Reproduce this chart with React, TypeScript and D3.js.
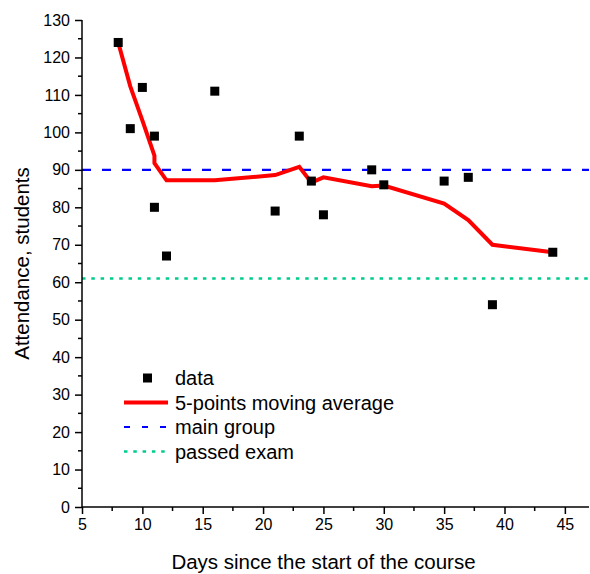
import React, { useEffect, useRef } from 'react'
import * as d3 from 'd3'

// measured attendance (day of course, students)
const days = [8, 9, 10, 11, 11, 12, 16, 21, 23, 24, 25, 29, 30, 35, 37, 39, 44]
const attendance = [124, 101, 112, 99, 80, 67, 111, 79, 99, 87, 78, 90, 86, 87, 88, 54, 68]

// 5-points moving average
const avgDays = [8, 9, 10, 11, 11, 12, 16, 21, 23, 24, 25, 29, 30, 35, 37, 39, 44]
const avgValues = [124, 112.3, 103.2, 93.8, 91.8, 87.2, 87.2, 88.6, 90.8, 86.6, 88, 85.6, 85.8, 81, 76.6, 70, 68]

const mainGroup = 90
const passedExam = 61

const xTicks = [5, 10, 15, 20, 25, 30, 35, 40, 45]
const yTicks = [0, 10, 20, 30, 40, 50, 60, 70, 80, 90, 100, 110, 120, 130]

const legendItems = ['data', '5-points moving average', 'main group', 'passed exam']

const W = 590, H = 574
const FONT = '"Liberation Sans", Arial, sans-serif'

export default function App() {
    const ref = useRef<SVGSVGElement>(null)

    useEffect(() => {
        const svg = d3.select(ref.current)
        svg.selectAll('*').remove()

        const x = d3.scaleLinear().domain([5, 47]).range([82, 589])
        const y = d3.scaleLinear().domain([0, 130]).range([507, 20])

        // reference lines
        svg.append('line')
            .attr('x1', x(5)).attr('x2', x(47))
            .attr('y1', y(mainGroup)).attr('y2', y(mainGroup))
            .style('stroke', '#0000ff').style('stroke-width', 2.2)
            .style('stroke-dasharray', '9 11')
        svg.append('line')
            .attr('x1', x(5)).attr('x2', x(47))
            .attr('y1', y(passedExam)).attr('y2', y(passedExam))
            .style('stroke', '#00cc8c').style('stroke-width', 2.5)
            .style('stroke-dasharray', '3.5 5.8')

        // moving average
        const line = d3.line<number>()
            .x((d, i) => x(avgDays[i]))
            .y(d => y(d))
        svg.append('path')
            .datum(avgValues)
            .attr('d', line)
            .style('fill', 'none')
            .style('stroke', '#ff0000')
            .style('stroke-width', 4)

        // data squares
        svg.selectAll('.pt')
            .data(attendance)
            .enter().append('rect')
            .attr('class', 'pt')
            .attr('x', (d, i) => x(days[i]) - 4.5)
            .attr('y', d => y(d) - 4.5)
            .attr('width', 9).attr('height', 9)
            .style('fill', '#000')

        // x axis
        const xAxis = d3.axisBottom(x)
            .tickValues(xTicks)
            .tickSize(7)
            .tickPadding(5)
        const gx = svg.append('g').attr('transform', `translate(0,${y(0)})`).call(xAxis)
        gx.select('.domain').attr('d', `M${x(5)},0H${x(47)}`)
        gx.selectAll('.tick line').style('stroke-width', 1.5)
        gx.selectAll('.tick text').style('font-size', '16px').style('font-family', FONT).style('fill', '#000')
        gx.append('g').selectAll('line')
            .data(xTicks.map(t => t + 2.5))
            .enter().append('line')
            .attr('x1', d => x(d)).attr('x2', d => x(d))
            .attr('y1', 0).attr('y2', 4)
            .style('stroke', '#000').style('stroke-width', 1.5)
        gx.select('.domain').style('stroke-width', 1.5)

        // y axis
        const yAxis = d3.axisLeft(y)
            .tickValues(yTicks)
            .tickSize(7)
            .tickPadding(5)
        const gy = svg.append('g').attr('transform', `translate(${x(5)},0)`).call(yAxis)
        gy.select('.domain').attr('d', `M0,${y(0)}V${y(130)}`).style('stroke-width', 1.5)
        gy.selectAll('.tick line').style('stroke-width', 1.5)
        gy.selectAll('.tick text').style('font-size', '16px').style('font-family', FONT).style('fill', '#000')
        gy.append('g').selectAll('line')
            .data(yTicks.slice(0, -1).map(t => t + 5))
            .enter().append('line')
            .attr('y1', d => y(d)).attr('y2', d => y(d))
            .attr('x1', 0).attr('x2', -4)
            .style('stroke', '#000').style('stroke-width', 1.5)

        // axis titles
        svg.append('text')
            .attr('x', (82 + 589) / 2 - 12).attr('y', 569)
            .attr('text-anchor', 'middle')
            .style('font-family', FONT).style('font-size', '20.5px')
            .text('Days since the start of the course')
        svg.append('text')
            .attr('transform', `translate(29,${(20 + 507) / 2}) rotate(-90)`)
            .attr('text-anchor', 'middle')
            .style('font-family', FONT).style('font-size', '20.5px')
            .text('Attendance, students')

        // legend
        const lg = svg.append('g').attr('transform', 'translate(124,378)')
        const rowH = 24.5
        lg.append('rect').attr('x', 19).attr('y', -4.5).attr('width', 9).attr('height', 9).style('fill', '#000')
        lg.append('line').attr('x1', 0).attr('x2', 44).attr('y1', rowH).attr('y2', rowH)
            .style('stroke', '#ff0000').style('stroke-width', 4)
        lg.append('line').attr('x1', 0).attr('x2', 44).attr('y1', rowH * 2).attr('y2', rowH * 2)
            .style('stroke', '#0000ff').style('stroke-width', 2.2).style('stroke-dasharray', '6 12')
        lg.append('line').attr('x1', 0).attr('x2', 44).attr('y1', rowH * 3).attr('y2', rowH * 3)
            .style('stroke', '#00cc8c').style('stroke-width', 2.5).style('stroke-dasharray', '3.5 5.8')
        lg.selectAll('.lt')
            .data(legendItems)
            .enter().append('text')
            .attr('class', 'lt')
            .attr('x', 51)
            .attr('y', (d, i) => i * rowH + 7)
            .style('font-family', FONT).style('font-size', '20px')
            .text(d => d)
    }, [])

    return (
        <svg ref={ref} width={W} height={H}
            style={{ position: 'absolute', left: 0, top: 0, background: '#fff' }} />
    )
}
